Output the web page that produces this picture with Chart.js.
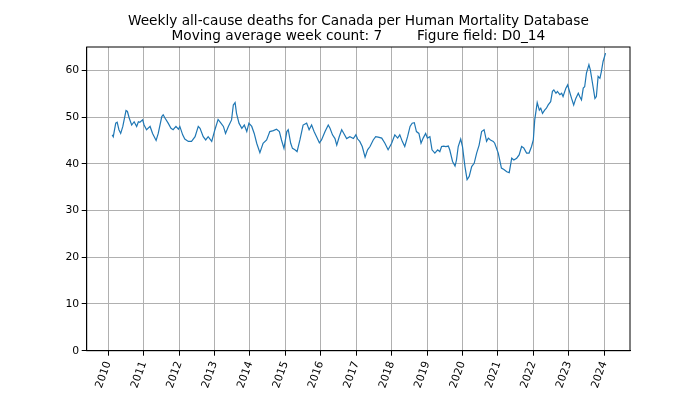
<!DOCTYPE html>
<html>
<head>
<meta charset="utf-8">
<script src="https://cdn.jsdelivr.net/npm/chart.js@4/dist/chart.umd.min.js"></script>
<style>
  body { margin: 0; background: #fff; }
</style>
</head>
<body>
<canvas id="chart" width="700" height="394"></canvas>
<script>
// values (decimal year, 7-week moving average of deaths)
const years = [
  2010.11, 2010.14, 2010.21, 2010.25, 2010.30, 2010.35, 2010.41, 2010.50, 2010.54, 2010.59,
  2010.66, 2010.73, 2010.80, 2010.85, 2010.89, 2010.97, 2011.01, 2011.08, 2011.18, 2011.25,
  2011.35, 2011.41, 2011.51, 2011.55, 2011.60, 2011.69, 2011.77, 2011.83, 2011.91, 2011.98,
  2012.02, 2012.10, 2012.16, 2012.26, 2012.35, 2012.45, 2012.54, 2012.59, 2012.68, 2012.75,
  2012.82, 2012.92, 2013.01, 2013.10, 2013.18, 2013.25, 2013.31, 2013.39, 2013.48, 2013.53,
  2013.58, 2013.62, 2013.69, 2013.77, 2013.84, 2013.91, 2013.97, 2014.05, 2014.12, 2014.19,
  2014.28, 2014.37, 2014.47, 2014.56, 2014.66, 2014.75, 2014.83, 2014.89, 2014.96, 2015.04,
  2015.08, 2015.15, 2015.20, 2015.27, 2015.33, 2015.41, 2015.50, 2015.60, 2015.67, 2015.74,
  2015.81, 2015.88, 2015.96, 2016.02, 2016.12, 2016.21, 2016.26, 2016.33, 2016.40, 2016.45,
  2016.52, 2016.59, 2016.65, 2016.73, 2016.82, 2016.92, 2016.99, 2017.04, 2017.10, 2017.17,
  2017.25, 2017.32, 2017.39, 2017.48, 2017.55, 2017.62, 2017.72, 2017.81, 2017.90, 2018.00,
  2018.09, 2018.17, 2018.23, 2018.30, 2018.37, 2018.45, 2018.52, 2018.58, 2018.64, 2018.70,
  2018.77, 2018.83, 2018.89, 2018.96, 2019.01, 2019.08, 2019.14, 2019.22, 2019.30, 2019.36,
  2019.41, 2019.47, 2019.53, 2019.60, 2019.64, 2019.72, 2019.79, 2019.83, 2019.88, 2019.95,
  2020.00, 2020.07, 2020.13, 2020.19, 2020.26, 2020.33, 2020.40, 2020.47, 2020.54, 2020.61,
  2020.68, 2020.73, 2020.79, 2020.87, 2020.91, 2021.01, 2021.10, 2021.17, 2021.25, 2021.32,
  2021.39, 2021.45, 2021.53, 2021.60, 2021.67, 2021.73, 2021.81, 2021.88, 2021.95, 2022.00,
  2022.04, 2022.11, 2022.17, 2022.21, 2022.26, 2022.32, 2022.37, 2022.42, 2022.49, 2022.54,
  2022.58, 2022.64, 2022.68, 2022.75, 2022.80, 2022.84, 2022.92, 2022.97, 2023.01, 2023.08,
  2023.14, 2023.20, 2023.27, 2023.31, 2023.36, 2023.41, 2023.45, 2023.50, 2023.57, 2023.61,
  2023.67, 2023.74, 2023.78, 2023.83, 2023.88, 2023.92, 2023.97, 2024.04
];
const deaths = [
  46.2, 45.8, 48.7, 48.9, 47.3, 46.5, 48.0, 51.4, 51.2, 49.8,
  48.3, 49.0, 48.0, 49.0, 48.9, 49.4, 48.3, 47.3, 48.0, 46.5,
  45.0, 46.5, 50.1, 50.5, 49.8, 48.7, 47.6, 47.3, 48.0, 47.4,
  48.0, 46.2, 45.3, 44.8, 44.8, 45.8, 48.0, 47.6, 45.8, 45.1,
  45.8, 44.8, 47.3, 49.5, 48.7, 48.0, 46.5, 48.0, 49.4, 52.6,
  53.1, 50.8, 48.7, 47.6, 48.3, 46.9, 48.7, 48.0, 46.5, 44.4,
  42.4, 44.4, 45.1, 46.9, 47.1, 47.4, 46.9, 45.1, 43.3, 46.9,
  47.3, 44.4, 43.3, 43.0, 42.6, 45.1, 48.3, 48.7, 47.3, 48.3,
  46.9, 45.8, 44.5, 45.1, 46.9, 48.3, 47.6, 46.2, 45.4, 44.0,
  45.8, 47.3, 46.5, 45.4, 45.8, 45.4, 46.2, 45.3, 44.8, 43.7,
  41.4, 43.0, 43.7, 45.1, 45.8, 45.7, 45.5, 44.4, 43.0, 44.4,
  46.2, 45.5, 46.2, 44.8, 43.7, 45.8, 48.0, 48.7, 48.8, 46.9,
  46.5, 44.4, 45.5, 46.5, 45.5, 45.8, 43.0, 42.3, 43.0, 42.6,
  43.7, 43.8, 43.7, 43.8, 43.0, 40.5, 39.5, 40.8, 43.7, 45.3,
  43.7, 39.4, 36.6, 37.3, 39.4, 40.1, 42.3, 44.0, 46.9, 47.3,
  44.8, 45.5, 45.1, 44.8, 44.4, 42.3, 39.1, 38.8, 38.3, 38.1,
  41.2, 40.8, 41.2, 41.9, 43.7, 43.4, 42.3, 42.3, 43.7, 45.1,
  49.4, 53.1, 51.5, 51.9, 50.8, 51.5, 51.9, 52.6, 53.3, 55.5,
  55.8, 55.1, 55.5, 54.8, 55.1, 54.4, 56.2, 56.9, 55.8, 54.0,
  52.6, 54.0, 55.1, 54.4, 53.7, 56.2, 56.5, 59.4, 61.2, 60.1,
  57.3, 54.0, 54.4, 58.7, 58.3, 59.7, 61.9, 63.7
];
const yearTicks = [2010, 2011, 2012, 2013, 2014, 2015, 2016, 2017, 2018, 2019, 2020, 2021, 2022, 2023, 2024];
const valueTicks = [0, 10, 20, 30, 40, 50, 60];
const titleLines = [
  'Weekly all-cause deaths for Canada per Human Mortality Database',
  'Moving average week count: 7        Figure field: D0_14'
];

const font = '"DejaVu Sans", sans-serif';

// title centred over the plot area + the box round it, like matplotlib spines
const framePlugin = {
  id: 'frame',
  afterDraw(chart) {
    const ctx = chart.ctx;
    const a = chart.chartArea;
    ctx.save();
    ctx.strokeStyle = '#000';
    ctx.lineWidth = 1;
    ctx.strokeRect(a.left, a.top, a.right - a.left, a.bottom - a.top);
    ctx.fillStyle = '#000';
    ctx.font = '13.7px ' + font;
    ctx.textAlign = 'center';
    const cx = (a.left + a.right) / 2;
    ctx.fillText(titleLines[0], cx, 25);
    ctx.fillText(titleLines[1], cx, 39.5);
    ctx.restore();
  }
};

new Chart(document.getElementById('chart'), {
  type: 'line',
  data: {
    datasets: [{
      data: years.map((x, i) => ({ x: x, y: deaths[i] })),
      borderColor: '#1f77b4',
      borderWidth: 1.2,
      pointRadius: 0,
      tension: 0,
      fill: false
    }]
  },
  options: {
    responsive: false,
    animation: false,
    layout: { padding: { top: 47, right: 70, bottom: 0, left: 0 } },
    plugins: {
      legend: { display: false },
      tooltip: { enabled: false },
      title: { display: false }
    },
    scales: {
      x: {
        type: 'linear',
        min: 2009.39,
        max: 2024.73,
        afterBuildTicks: s => { s.ticks = yearTicks.map(v => ({ value: v })); },
        afterFit: s => { s.height = 43.3; },
        grid: { color: '#b0b0b0', tickColor: '#000', tickLength: 5 },
        border: { color: '#000' },
        ticks: {
          color: '#000',
          font: { family: font, size: 10.8 },
          minRotation: 70,
          maxRotation: 70,
          padding: 4,
          callback: v => String(v)
        }
      },
      y: {
        min: 0,
        max: 65,
        afterBuildTicks: s => { s.ticks = valueTicks.map(v => ({ value: v })); },
        afterFit: s => { s.width = 86.7; },
        grid: { color: '#b0b0b0', tickColor: '#000', tickLength: 5 },
        border: { color: '#000' },
        ticks: {
          color: '#000',
          font: { family: font, size: 10.8 },
          padding: 2.5,
          callback: v => String(v)
        }
      }
    }
  },
  plugins: [framePlugin]
});
</script>
</body>
</html>
